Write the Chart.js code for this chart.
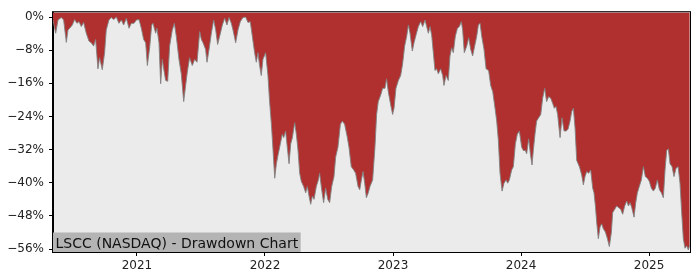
<!DOCTYPE html>
<html>
<head>
<meta charset="utf-8">
<script src="https://cdn.jsdelivr.net/npm/chart.js@4"></script>
<style>
  body { margin: 0; background: #ffffff; }
  #chart { display: block; }
</style>
</head>
<body>
<canvas id="chart" width="700" height="280"></canvas>
<script>
// drawdown: x = decimal year, y = % below previous peak
const years = [
  2020.344, 2020.365, 2020.383, 2020.409, 2020.427, 2020.448, 2020.461, 2020.474, 2020.495, 2020.513,
  2020.531, 2020.547, 2020.565, 2020.583, 2020.604, 2020.625, 2020.643, 2020.661, 2020.677, 2020.695,
  2020.708, 2020.729, 2020.747, 2020.760, 2020.781, 2020.799, 2020.818, 2020.839, 2020.859, 2020.878,
  2020.896, 2020.917, 2020.938, 2020.956, 2020.977, 2020.995, 2021.016, 2021.034, 2021.052, 2021.068,
  2021.081, 2021.099, 2021.115, 2021.125, 2021.146, 2021.156, 2021.172, 2021.185, 2021.198, 2021.211,
  2021.224, 2021.240, 2021.255, 2021.276, 2021.292, 2021.307, 2021.328, 2021.346, 2021.365, 2021.380,
  2021.393, 2021.411, 2021.432, 2021.451, 2021.469, 2021.490, 2021.503, 2021.516, 2021.536, 2021.547,
  2021.563, 2021.581, 2021.599, 2021.615, 2021.630, 2021.646, 2021.667, 2021.685, 2021.703, 2021.719,
  2021.737, 2021.750, 2021.771, 2021.789, 2021.807, 2021.828, 2021.849, 2021.867, 2021.885, 2021.901,
  2021.919, 2021.932, 2021.945, 2021.958, 2021.971, 2021.984, 2022.005, 2022.023, 2022.036, 2022.050,
  2022.063, 2022.076, 2022.089, 2022.104, 2022.120, 2022.135, 2022.146, 2022.161, 2022.174, 2022.188,
  2022.201, 2022.214, 2022.232, 2022.245, 2022.258, 2022.271, 2022.284, 2022.302, 2022.318, 2022.331,
  2022.344, 2022.357, 2022.370, 2022.383, 2022.401, 2022.417, 2022.427, 2022.443, 2022.458, 2022.474,
  2022.490, 2022.505, 2022.521, 2022.539, 2022.552, 2022.570, 2022.589, 2022.604, 2022.622, 2022.641,
  2022.656, 2022.674, 2022.693, 2022.708, 2022.727, 2022.740, 2022.753, 2022.766, 2022.779, 2022.792,
  2022.807, 2022.820, 2022.841, 2022.859, 2022.872, 2022.885, 2022.904, 2022.919, 2022.937, 2022.950,
  2022.963, 2022.982, 2022.997, 2023.008, 2023.023, 2023.042, 2023.060, 2023.075, 2023.091, 2023.107,
  2023.120, 2023.133, 2023.151, 2023.164, 2023.180, 2023.198, 2023.216, 2023.232, 2023.250, 2023.263,
  2023.276, 2023.289, 2023.302, 2023.315, 2023.328, 2023.341, 2023.354, 2023.372, 2023.388, 2023.398,
  2023.414, 2023.432, 2023.445, 2023.458, 2023.471, 2023.487, 2023.503, 2023.518, 2023.534, 2023.544,
  2023.557, 2023.576, 2023.591, 2023.607, 2023.622, 2023.638, 2023.654, 2023.667, 2023.680, 2023.693,
  2023.711, 2023.727, 2023.747, 2023.763, 2023.779, 2023.797, 2023.810, 2023.823, 2023.836, 2023.852,
  2023.867, 2023.883, 2023.896, 2023.909, 2023.927, 2023.940, 2023.956, 2023.971, 2023.987, 2024.005,
  2024.018, 2024.034, 2024.044, 2024.060, 2024.073, 2024.086, 2024.096, 2024.109, 2024.122, 2024.138,
  2024.154, 2024.169, 2024.185, 2024.200, 2024.216, 2024.232, 2024.247, 2024.260, 2024.273, 2024.286,
  2024.305, 2024.320, 2024.336, 2024.352, 2024.367, 2024.383, 2024.396, 2024.409, 2024.422, 2024.435,
  2024.456, 2024.474, 2024.487, 2024.500, 2024.513, 2024.529, 2024.544, 2024.560, 2024.570, 2024.581,
  2024.591, 2024.604, 2024.617, 2024.630, 2024.643, 2024.659, 2024.675, 2024.690, 2024.706, 2024.716,
  2024.732, 2024.747, 2024.763, 2024.779, 2024.794, 2024.810, 2024.826, 2024.839, 2024.852, 2024.865,
  2024.883, 2024.896, 2024.909, 2024.924, 2024.940, 2024.956, 2024.971, 2024.987, 2025.003, 2025.018,
  2025.034, 2025.049, 2025.065, 2025.081, 2025.096, 2025.112, 2025.125, 2025.138, 2025.151, 2025.164,
  2025.180, 2025.195, 2025.211, 2025.227, 2025.242, 2025.255, 2025.268, 2025.281, 2025.294, 2025.307,
  2025.318
];
const drawdown = [
  -0.7, -3.9, -0.7, -0.1, -0.7, -6.1, -3.1, -2.7, -1.9, -0.6,
  -1.5, -1.1, -2.3, -1.3, -3.9, -5.8, -6.2, -7.0, -5.4, -12.5,
  -9.8, -12.7, -8.6, -3.1, -0.7, -0.1, -0.6, 0, -1.5, -0.7,
  -1.9, -0.3, -2.7, -1.5, -1.5, -0.7, -0.6, -2.7, -5.4, -6.2,
  -11.7, -7.4, -1.9, -1.5, -3.9, -2.7, -6.2, -16.1, -10.2, -12.9,
  -15.3, -15.5, -7.0, -3.1, -1.5, -4.6, -10.2, -13.7, -20.4, -16.5,
  -13.3, -9.8, -11.7, -10.2, -10.9, -3.5, -5.4, -6.2, -7.8, -10.9,
  -7.8, -3.9, -0.7, -3.1, -6.6, -4.6, -1.9, -0.3, -1.9, -0.1,
  -1.5, -3.1, -6.2, -3.1, -1.1, -0.1, 0, -1.3, -1.1, -4.6,
  -8.6, -10.9, -8.6, -11.7, -14.1, -10.2, -8.6, -14.1, -20.4, -25.9,
  -32.2, -38.9, -35.4, -33.0, -30.6, -28.3, -29.1, -27.5, -31.4, -35.4,
  -30.6, -29.1, -25.5, -28.3, -32.2, -37.7, -39.7, -40.9, -42.4, -40.9,
  -43.2, -45.2, -43.2, -44.0, -40.9, -39.3, -37.7, -41.7, -44.8, -41.3,
  -44.0, -44.8, -40.9, -38.5, -33.8, -31.4, -25.9, -25.1, -25.9, -28.7,
  -31.4, -36.1, -36.9, -37.7, -40.9, -41.7, -39.3, -37.3, -40.1, -43.6,
  -42.4, -40.9, -39.3, -31.4, -23.5, -20.4, -18.8, -17.2, -17.2, -14.9,
  -18.0, -21.2, -23.5, -22.0, -17.2, -15.3, -14.1, -11.3, -7.0, -4.6,
  -1.9, -3.9, -8.2, -6.2, -4.3, -2.3, -1.1, -2.3, -0.7, -2.3,
  -3.9, -2.3, -4.3, -8.6, -12.9, -12.5, -13.7, -12.5, -14.1, -16.5,
  -14.1, -15.3, -9.4, -7.4, -8.6, -4.6, -2.7, -2.3, -1.1, -3.1,
  -8.6, -7.0, -5.0, -7.8, -9.4, -7.0, -4.6, -1.9, -1.5, -4.6,
  -7.8, -12.5, -12.9, -16.5, -18.0, -22.0, -25.1, -29.8, -37.7, -42.0,
  -40.1, -39.3, -40.1, -39.3, -36.9, -36.1, -30.6, -28.3, -27.5, -31.4,
  -32.2, -32.2, -33.0, -29.4, -33.0, -35.7, -32.2, -28.3, -25.1, -24.3,
  -23.5, -19.6, -17.2, -20.4, -19.2, -19.6, -20.8, -22.0, -21.6, -23.5,
  -29.1, -24.3, -27.5, -27.5, -27.1, -25.1, -22.8, -22.0, -26.7, -34.6,
  -36.1, -38.1, -40.5, -38.5, -37.3, -37.7, -36.9, -41.3, -42.4, -45.6,
  -49.5, -53.5, -50.7, -49.9, -51.1, -51.9, -53.5, -55.4, -51.9, -47.2,
  -46.4, -45.6, -46.0, -46.4, -47.6, -45.6, -44.4, -45.6, -44.8, -46.0,
  -48.3, -44.8, -42.4, -40.9, -39.3, -36.1, -38.5, -38.9, -39.7, -41.3,
  -42.0, -41.3, -39.3, -41.7, -42.4, -43.6, -36.9, -32.2, -31.8, -35.4,
  -36.1, -38.5, -36.5, -36.1, -40.1, -47.2, -53.5, -55.8, -55.2, -56.2,
  -55.0
];
const yearTicks = [2021, 2022, 2023, 2024, 2025];
const pctTicks = [0, -8, -16, -24, -32, -40, -48, -56];
const title = "LSCC (NASDAQ) - Drawdown Chart";

const points = years.map((x, i) => ({ x: x, y: drawdown[i] }));

// grey panel behind the plot, black frame and the caption box
const panelPlugin = {
  id: "panel",
  beforeDraw(chart) {
    const { ctx, chartArea: a } = chart;
    ctx.save();
    ctx.fillStyle = "#ebebeb";
    ctx.fillRect(a.left, a.top, a.right - a.left, a.bottom - a.top);
    ctx.restore();
  },
  afterDraw(chart) {
    const { ctx, chartArea: a } = chart;
    ctx.save();
    ctx.font = "14px 'DejaVu Sans'";
    const w = ctx.measureText(title).width + 5;
    ctx.fillStyle = "#b4b4b4";
    ctx.fillRect(a.left, a.bottom - 19.5, w, 19.5);
    ctx.fillStyle = "#111";
    ctx.textBaseline = "alphabetic";
    ctx.fillText(title, a.left + 2.5, a.bottom - 4.5);
    ctx.strokeStyle = "#000";
    ctx.lineWidth = 1;
    ctx.strokeRect(a.left - 0.5, a.top - 0.5, a.right - a.left + 1, a.bottom - a.top + 1);
    ctx.restore();
  }
};

const fmtPct = v => (v < 0 ? "\u2212" : "") + Math.abs(v) + "%";

new Chart(document.getElementById("chart"), {
  type: "line",
  data: {
    datasets: [{
      data: points,
      fill: "end",
      backgroundColor: "#b03030",
      borderColor: "rgba(130,130,130,0.9)",
      borderWidth: 1,
      pointRadius: 0,
      tension: 0
    }]
  },
  options: {
    responsive: false,
    animation: false,
    devicePixelRatio: 1,
    layout: { padding: { top: 7, right: 10, left: 0, bottom: 0 } },
    plugins: { legend: { display: false }, tooltip: { enabled: false } },
    scales: {
      x: {
        type: "linear",
        min: 2020.344,
        max: 2025.32,
        afterFit: s => { s.height = 28; },
        afterBuildTicks: s => { s.ticks = yearTicks.map(v => ({ value: v })); },
        grid: { drawOnChartArea: false, tickLength: 4, color: "#000" },
        border: { color: "#000" },
        ticks: {
          padding: 3,
          maxRotation: 0,
          color: "#222",
          font: { family: "DejaVu Sans", size: 12 },
          callback: v => String(v)
        }
      },
      y: {
        min: -56.71,
        max: 1.18,
        afterFit: s => { s.width = 53; },
        afterBuildTicks: s => { s.ticks = pctTicks.map(v => ({ value: v })); },
        grid: { drawOnChartArea: false, tickLength: 4, color: "#000" },
        border: { color: "#000" },
        ticks: {
          padding: 5,
          color: "#222",
          font: { family: "DejaVu Sans", size: 12 },
          callback: fmtPct
        }
      }
    }
  },
  plugins: [panelPlugin]
});
</script>
</body>
</html>
